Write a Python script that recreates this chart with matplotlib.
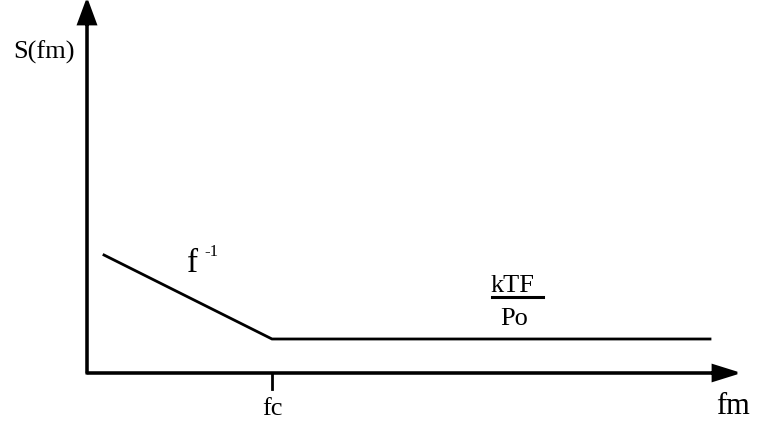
import matplotlib
matplotlib.use("Agg")
import matplotlib.pyplot as plt

# ==========================================================
# DATA : schematic noise spectrum S(fm)
# (units: 1 unit = 10 px, origin at the axes corner)
# ==========================================================

fm_points = [1.7, 18.5, 62.3]
s_points = [11.8, 3.4, 3.4]

fc_pos = 18.5

x_label = "fm"
y_label = "S(fm)"
fc_label = "fc"
slope_label = "f"
slope_exp = "-1"
floor_num = "kTF"
floor_den = "Po"

plt.rcParams["font.family"] = ["Liberation Serif", "DejaVu Serif"]

fig = plt.figure(figsize=(7.57, 4.24), dpi=100)
ax = fig.add_axes([0, 0, 1, 1])
ax.set_xlim(-8.7, 67.0)
ax.set_ylim(-5.1, 37.3)
ax.axis("off")

lw = 2.0

# axes with arrow heads
ax.arrow(0, 0, 0, 37.2, width=0.001, head_width=1.7, head_length=2.3,
         length_includes_head=True, color="black", lw=lw)
ax.arrow(0, 0, 65.0, 0, width=0.001, head_width=1.5, head_length=2.4,
         length_includes_head=True, color="black", lw=lw)

# spectrum line
ax.plot(fm_points, s_points, color="black", lw=lw, solid_joinstyle="miter")

# fc tick
ax.plot([fc_pos, fc_pos], [0, -1.6], color="black", lw=lw)

# labels
ax.text(-4.3, 32.1, y_label, fontsize=19, ha="center", va="center")
ax.text(fc_pos, -4.2, fc_label, fontsize=19, ha="center", va="baseline")
ax.text(64.65, -4.15, x_label, fontsize=22, ha="center", va="baseline")

ax.text(10.0, 10.1, slope_label, fontsize=24, ha="left", va="baseline")
ax.text(11.7, 11.7, slope_exp, fontsize=12, ha="left", va="baseline")

ax.text(42.55, 8.1, floor_num, fontsize=19, ha="center", va="baseline")
ax.plot([40.5, 45.6], [7.6, 7.6], color="black", lw=2.2)
ax.text(42.75, 4.8, floor_den, fontsize=19, ha="center", va="baseline")

fig.savefig("out.png", dpi=100)
